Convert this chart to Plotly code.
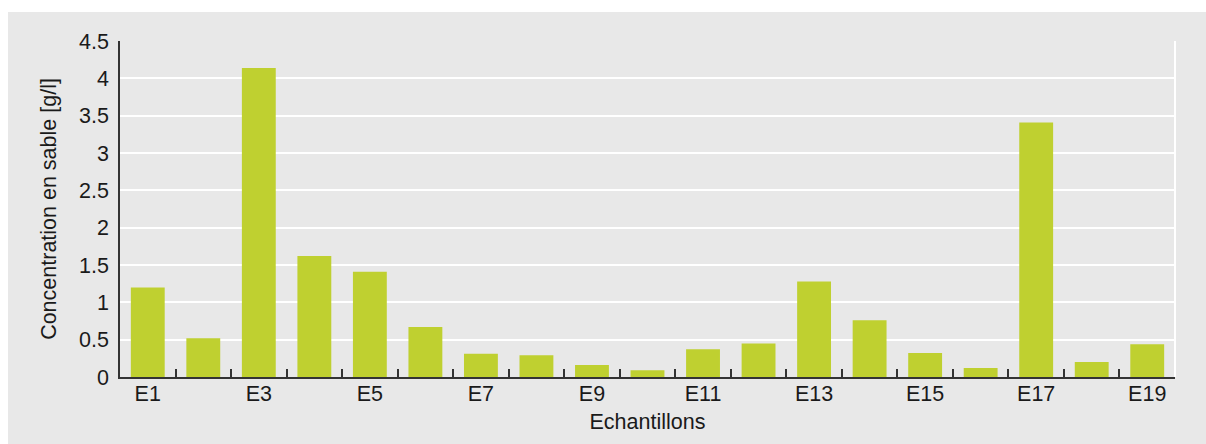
import plotly.graph_objects as go

categories = [f"E{i}" for i in range(1, 20)]
values = [1.20, 0.52, 4.14, 1.62, 1.41, 0.67, 0.31, 0.29, 0.16, 0.09,
          0.37, 0.45, 1.28, 0.76, 0.32, 0.12, 3.41, 0.20, 0.44]
tick_labels = [c if i % 2 == 0 else "" for i, c in enumerate(categories)]
y_ticks = [0, 0.5, 1, 1.5, 2, 2.5, 3, 3.5, 4, 4.5]
y_tick_text = ["0", "0.5", "1", "1.5", "2", "2.5", "3", "3.5", "4", "4.5"]

BG = "#e8e8e8"
FONT = "Liberation Sans, Arial, sans-serif"
FS = 21.5
W, H = 1206, 444
L, R, T, B = 120, 31, 41, 67
pw, ph = W - L - R, H - T - B

fig = go.Figure(go.Bar(x=categories, y=values, marker=dict(color="#bfd030", line=dict(width=0))))

fig.update_layout(
    width=W, height=H,
    margin=dict(l=L, r=R, t=T, b=B),
    paper_bgcolor="white",
    plot_bgcolor=BG,
    bargap=0.39,
    showlegend=False,
    font=dict(family=FONT, size=FS, color="#1a1a1a"),
    shapes=[
        dict(type="rect", xref="paper", yref="paper",
             x0=(8 - L) / pw, x1=(W - L) / pw + 0.01,
             y0=-B / ph - 0.01, y1=(H - B - 12) / ph,
             fillcolor=BG, line=dict(width=0), layer="below"),
        dict(type="line", xref="paper", yref="paper", x0=1, x1=1, y0=0, y1=1,
             line=dict(color="white", width=2), layer="below"),
    ],
)

fig.update_xaxes(
    type="category",
    tickvals=categories, ticktext=tick_labels,
    tickson="boundaries",
    ticks="inside", ticklen=8, tickwidth=1.5, tickcolor="#333333",
    showline=True, linecolor="#333333", linewidth=1.5,
    showgrid=False,
    ticklabelstandoff=-4,
    title=dict(text="Echantillons", font=dict(size=FS), standoff=9),
)

fig.update_yaxes(
    range=[0, 4.5],
    tickvals=y_ticks, ticktext=y_tick_text,
    ticks="",
    showline=True, linecolor="#333333", linewidth=1.5,
    showgrid=True, gridcolor="white", gridwidth=1.5,
    zeroline=False,
    ticklabelstandoff=5,
    title=dict(text="Concentration en sable [g/l]", font=dict(size=FS), standoff=17),
)

fig.write_html("out.html", config={"displayModeBar": False},
               post_script="document.body.style.margin='0';document.body.style.overflow='hidden';")
